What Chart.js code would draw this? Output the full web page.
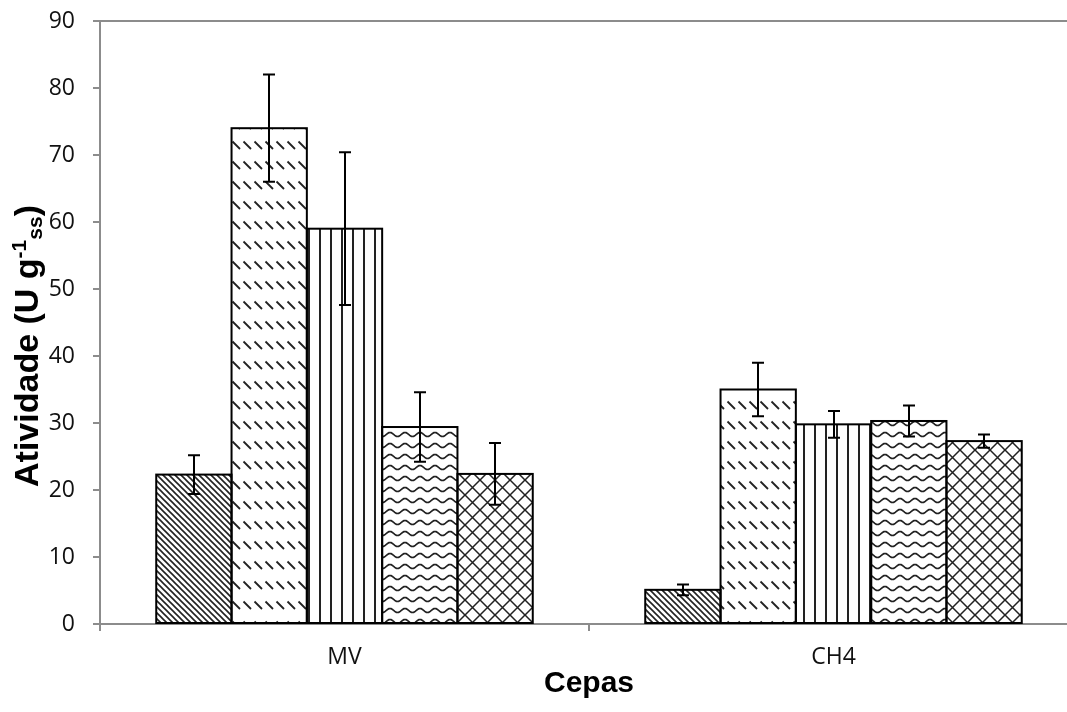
<!DOCTYPE html>
<html>
<head>
<meta charset="utf-8">
<script src="https://cdn.jsdelivr.net/npm/chart.js@4"></script>
<style>
  html, body { margin: 0; padding: 0; background: #fff; overflow: hidden; }
  #wrap { width: 1090px; height: 712px; position: relative; }
</style>
</head>
<body>
<div id="wrap"><canvas id="grafico"></canvas></div>
<script>
// Strains on the category axis
const cepas = ['MV', 'CH4'];

// Activity per strain, one series per treatment, with standard deviations
const serie1 = [22.3, 5.1];
const erro1  = [2.9, 0.8];
const serie2 = [74.0, 35.0];
const erro2  = [8.0, 4.0];
const serie3 = [59.0, 29.8];
const erro3  = [11.4, 2.0];
const serie4 = [29.4, 30.3];
const erro4  = [5.2, 2.3];
const serie5 = [22.4, 27.3];
const erro5  = [4.6, 1.0];

// Value axis ticks
const yTicks = [0, 10, 20, 30, 40, 50, 60, 70, 80, 90];

const canvas = document.getElementById('grafico');
const ctx = canvas.getContext('2d');

// Hatch fills built from small repeating tiles
function makePattern(w, h, draw) {
  const c = document.createElement('canvas');
  c.width = w; c.height = h;
  const g = c.getContext('2d');
  g.fillStyle = '#fff';
  g.fillRect(0, 0, w, h);
  g.strokeStyle = '#222';
  g.fillStyle = '#222';
  draw(g, w, h);
  return ctx.createPattern(c, 'repeat');
}

const hatchDiag = makePattern(6, 6, (g, w, h) => {
  g.lineWidth = 1.6;
  g.beginPath();
  for (const k of [-w, 0, w]) { g.moveTo(k - 1, -1); g.lineTo(k + w + 1, h + 1); }
  g.stroke();
});

const hatchDash = makePattern(11, 20, (g) => {
  g.lineWidth = 1.8;
  g.beginPath();
  g.moveTo(1.5, 1.5); g.lineTo(9, 9);
  g.stroke();
});

const hatchVert = makePattern(11, 4, (g, w, h) => {
  g.fillRect(0, 0, 2, h);
});

const hatchWave = makePattern(15, 11, (g, w, h) => {
  g.lineWidth = 1.7;
  g.beginPath();
  for (let x = -1; x <= w + 1; x += 0.5) {
    const y = h / 2 - 2 * Math.cos(2 * Math.PI * x / w);
    if (x === -1) g.moveTo(x, y); else g.lineTo(x, y);
  }
  g.stroke();
});

const hatchCross = makePattern(15, 15, (g, w, h) => {
  g.lineWidth = 1.5;
  g.beginPath();
  for (const k of [-w, 0, w]) {
    g.moveTo(k - 1, -1); g.lineTo(k + w + 1, h + 1);
    g.moveTo(k + w + 1, -1); g.lineTo(k - 1, h + 1);
  }
  g.stroke();
});

const series = [
  { data: serie1, err: erro1, fill: hatchDiag },
  { data: serie2, err: erro2, fill: hatchDash },
  { data: serie3, err: erro3, fill: hatchVert },
  { data: serie4, err: erro4, fill: hatchWave },
  { data: serie5, err: erro5, fill: hatchCross }
];

// Outlines and error bars drawn on top of the bars
const barDecor = {
  id: 'barDecor',
  afterDatasetsDraw(chart) {
    const c = chart.ctx;
    const yScale = chart.scales.y;
    c.save();
    c.strokeStyle = '#000';
    c.lineWidth = 2;
    chart.data.datasets.forEach((ds, i) => {
      chart.getDatasetMeta(i).data.forEach((bar) => {
        const p = bar.getProps(['x', 'y', 'base', 'width'], true);
        c.strokeRect(p.x - p.width / 2, p.y, p.width, p.base - p.y);
      });
    });
    chart.data.datasets.forEach((ds, i) => {
      chart.getDatasetMeta(i).data.forEach((bar, j) => {
        const p = bar.getProps(['x'], true);
        const v = ds.data[j], e = ds.errores[j];
        const hi = yScale.getPixelForValue(v + e);
        const lo = yScale.getPixelForValue(v - e);
        const x = Math.round(p.x);
        c.beginPath();
        c.moveTo(x, hi); c.lineTo(x, lo);
        c.moveTo(x - 6, hi); c.lineTo(x + 6, hi);
        c.moveTo(x - 6, lo); c.lineTo(x + 6, lo);
        c.stroke();
      });
    });
    c.restore();
  }
};

// Axis titles, with superscript and subscript in the unit
const axisTitles = {
  id: 'axisTitles',
  afterDraw(chart) {
    const c = chart.ctx;
    const fam = '"Liberation Sans", Arial, sans-serif';
    c.save();
    c.fillStyle = '#000';

    c.font = 'bold 30px ' + fam;
    c.textAlign = 'center';
    c.textBaseline = 'alphabetic';
    c.fillText('Cepas', 589, 692);

    const parts = [
      { t: 'Atividade (U g', size: 34, dy: 0 },
      { t: '-1', size: 21, dy: -12 },
      { t: 'ss', size: 21, dy: 4 },
      { t: ')', size: 34, dy: 0 }
    ];
    let total = 0;
    parts.forEach(p => { c.font = 'bold ' + p.size + 'px ' + fam; p.w = c.measureText(p.t).width; total += p.w; });
    c.translate(38, 346);
    c.rotate(-Math.PI / 2);
    c.textAlign = 'left';
    let x = -total / 2;
    parts.forEach(p => {
      c.font = 'bold ' + p.size + 'px ' + fam;
      c.fillText(p.t, x, p.dy);
      x += p.w;
    });
    c.restore();
  }
};

const tickFont = { family: '"Open Sans", sans-serif', size: 23 };

new Chart(ctx, {
  type: 'bar',
  data: {
    labels: cepas,
    datasets: series.map((s) => ({
      data: s.data,
      errores: s.err,
      backgroundColor: s.fill,
      borderWidth: 0,
      categoryPercentage: 0.77,
      barPercentage: 1.0
    }))
  },
  options: {
    responsive: true,
    maintainAspectRatio: false,
    animation: false,
    layout: { padding: { top: 21, right: 12, left: 0, bottom: 0 } },
    plugins: { legend: { display: false }, tooltip: { enabled: false } },
    scales: {
      x: {
        z: 1,
        offset: true,
        grid: { display: true, drawOnChartArea: false, tickLength: 7, tickColor: '#8c8c8c', lineWidth: 2, offset: true },
        border: { display: true, color: '#8c8c8c', width: 2 },
        ticks: { font: tickFont, color: '#111', padding: 13 },
        afterFit(scale) { scale.height = 88; scale.paddingLeft = 0; scale.paddingRight = 0; }
      },
      y: {
        z: 1,
        min: 0,
        max: 90,
        afterBuildTicks(scale) { scale.ticks = yTicks.map(v => ({ value: v })); },
        grid: {
          drawOnChartArea: true,
          color: (c) => (c.tick && c.tick.value === 90 ? '#8c8c8c' : 'rgba(0,0,0,0)'),
          tickColor: '#8c8c8c',
          tickLength: 7,
          lineWidth: 2
        },
        border: { display: true, color: '#8c8c8c', width: 2 },
        ticks: { font: tickFont, color: '#111', padding: 18 },
        afterFit(scale) { scale.width = 100; scale.paddingTop = 0; scale.paddingBottom = 0; }
      }
    }
  },
  plugins: [barDecor, axisTitles]
});
</script>
</body>
</html>
